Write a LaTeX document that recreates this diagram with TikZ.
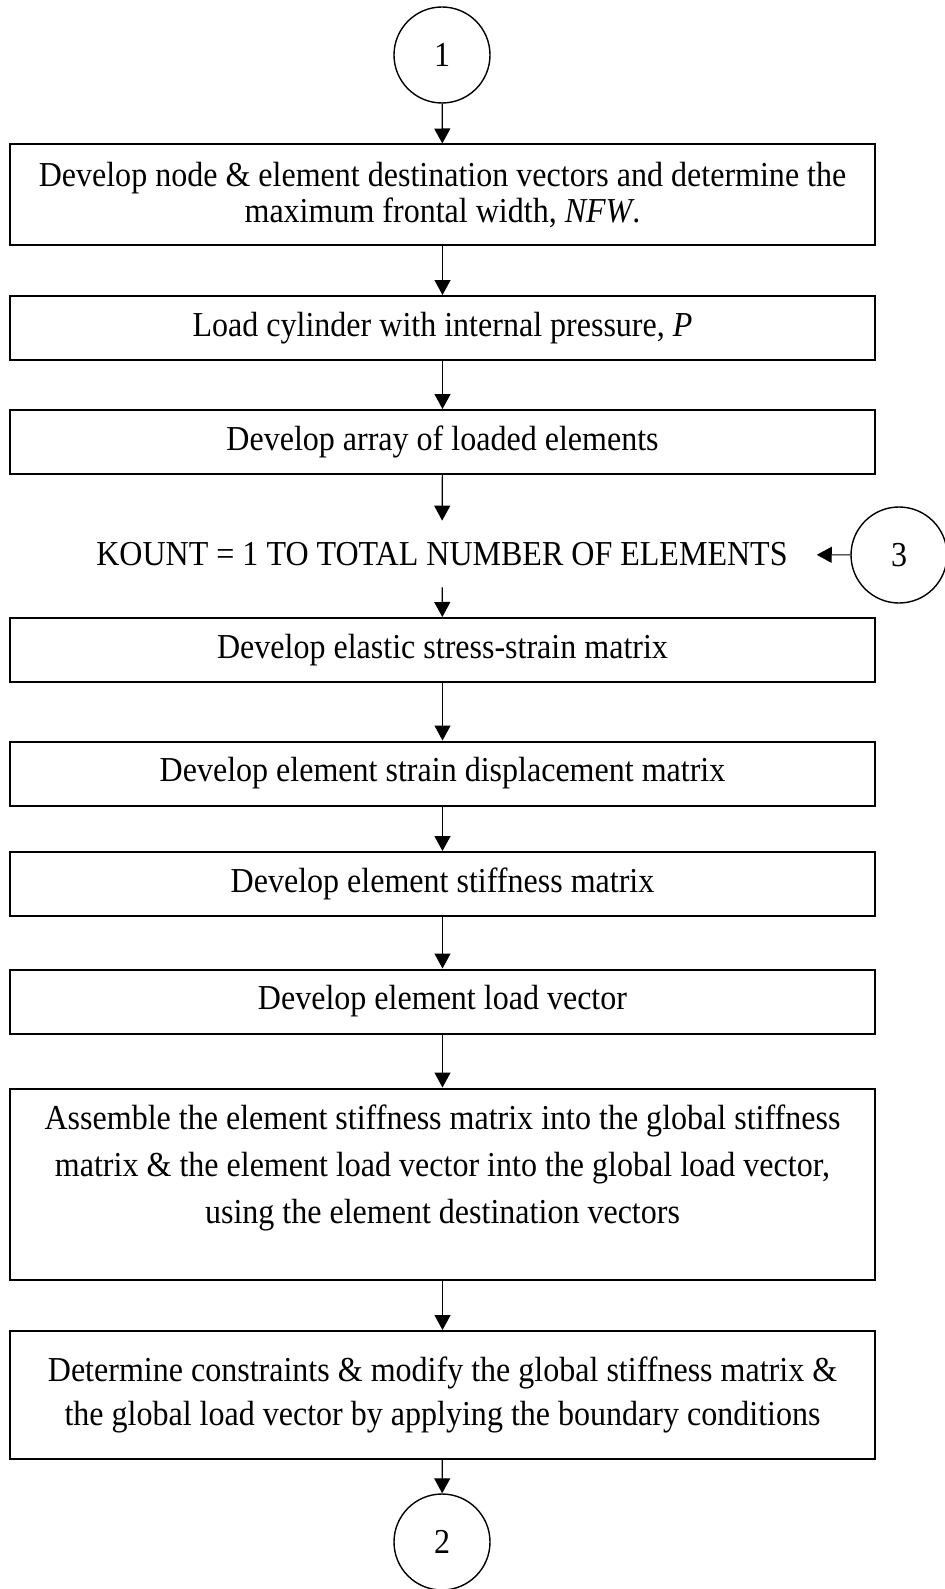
\documentclass[tikz,border=0pt]{standalone}
\usepackage{fontspec}
\setmainfont[FakeStretch=0.915]{Liberation Serif}
\usetikzlibrary{arrows.meta}

\tikzset{
  stepbox/.style={draw, line width=1pt, minimum width=432.5pt, minimum height=32pt, align=center, inner sep=0pt},
  connector/.style={circle, draw, line width=0.7pt, minimum size=48pt, inner sep=0pt},
}

\begin{document}
\begin{tikzpicture}[x=0.5pt, y=-0.5pt, semithick, >={Triangle[length=7.5pt,width=8pt]}, font=\fontsize{17.5}{22}\selectfont]
	\useasboundingbox (0,0) rectangle (944,1589);
	\node[connector] (c1) at (442,55) {1};
	\node[stepbox, minimum height=50.5pt] (dest) at (442.5,195) {Develop node \& element destination vectors and determine the\\[-4pt] maximum frontal width, \textit{NFW}.};
	\node[stepbox] (press) at (442.5,328) {Load cylinder with internal pressure, \textit{P}};
	\node[stepbox] (array) at (442.5,442) {Develop array of loaded elements};
	\node[inner xsep=14.25pt, inner ysep=10.5pt] (kount) at (442,554) {KOUNT = 1 TO TOTAL NUMBER OF ELEMENTS};
	\node[connector] (c3) at (899,555) {3};
	\node[stepbox] (elast) at (442.5,650) {Develop elastic stress-strain matrix};
	\node[stepbox] (bmat) at (442.5,773.5) {Develop element strain displacement matrix};
	\node[stepbox] (kmat) at (442.5,884) {Develop element stiffness matrix};
	\node[stepbox] (fvec) at (442.5,1001.5) {Develop element load vector};
	% text sits high in this box
	\node[stepbox, minimum height=95.5pt] (asm) at (442.5,1184) {\renewcommand\arraystretch{1.07}\raisebox{8.5pt}[\height][\depth]{\begin{tabular}{@{}c@{}}Assemble the element stiffness matrix into the global stiffness\\ matrix \& the element load vector into the global load vector,\\ using the element destination vectors\end{tabular}}};
	\node[stepbox, minimum height=64pt] (bc) at (442.5,1395) {Determine constraints \& modify the global stiffness matrix \&\\ the global load vector by applying the boundary conditions};
	\node[connector] (c2) at (442,1542) {2};
	\draw[->] (c1) -- (dest);
	\draw[->] (dest) -- (press);
	\draw[->] (press) -- (array);
	\draw[->] (array) -- (kount);
	\draw[->] (c3) -- (kount);
	\draw[->] (kount) -- (elast);
	\draw[->] (elast) -- (bmat);
	\draw[->] (bmat) -- (kmat);
	\draw[->] (kmat) -- (fvec);
	\draw[->] (fvec) -- (asm);
	\draw[->] (asm) -- (bc);
	\draw[->] (bc) -- (c2);
\end{tikzpicture}
\end{document}
